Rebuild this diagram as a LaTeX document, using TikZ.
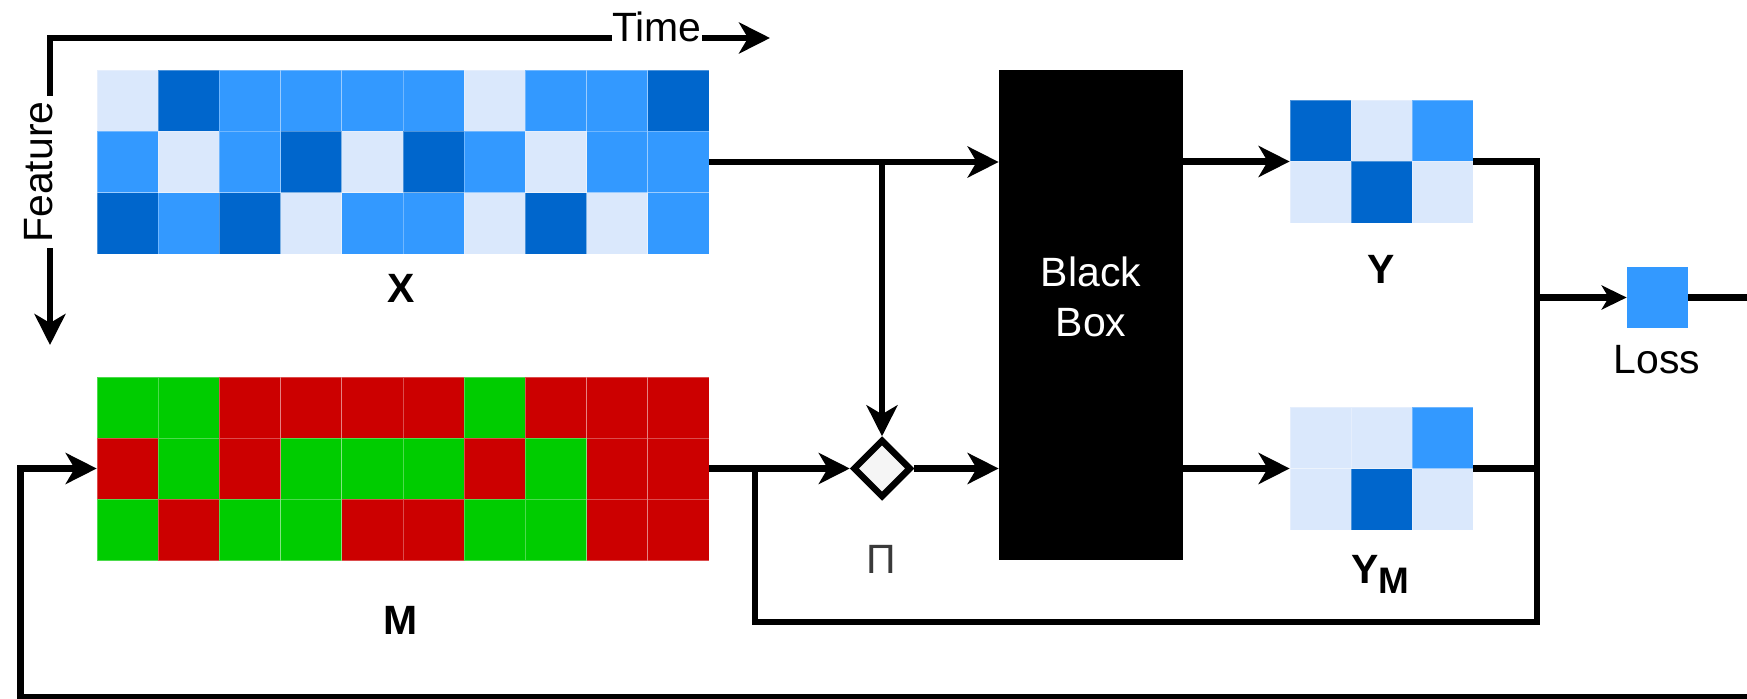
\documentclass[tikz,border=0pt]{standalone}
\usepackage{fontspec}
\setmainfont{Liberation Sans}
\usetikzlibrary{arrows.meta,shapes.geometric}
\definecolor{cL}{HTML}{DAE8FC}
\definecolor{cM}{HTML}{3399FF}
\definecolor{cD}{HTML}{0066CC}
\definecolor{cG}{HTML}{00CC00}
\definecolor{cR}{HTML}{CC0000}
\definecolor{cP}{HTML}{F5F5F5}
\definecolor{cT}{HTML}{3A3A3A}
\tikzset{
  bigtip/.tip={Stealth[length=0.62cm,width=0.62cm,inset=0.18cm]},
  smalltip/.tip={Stealth[length=0.5cm,width=0.48cm,inset=0.14cm]},
  conn/.style={line width=0.13cm, black},
  arr/.style={-bigtip},
  arrs/.style={-smalltip},
  lbl/.style={font=\fontsize{23.3pt}{28.4pt}\selectfont, inner sep=0pt},
  blbl/.style={font=\fontsize{23.3pt}{28.4pt}\selectfont\bfseries, inner sep=0pt},
  gridbox/.style={draw=none, inner sep=0pt, minimum width=12.24cm, minimum height=3.68cm},
  smallgrid/.style={draw=none, inner sep=0pt, minimum width=3.66cm, minimum height=2.46cm},
  cell/.style={draw=white, draw opacity=0.3, line width=0.4pt},
}
\begin{document}
\begin{tikzpicture}[x=0.02cm,y=-0.02cm]
\useasboundingbox (0,0) rectangle (1747,699);

% grids
\node[gridbox] (X) at (403,162) {};
\node[gridbox] (M) at (403,468.5) {};
\node[smallgrid] (Y) at (1381.5,161.5) {};
\node[smallgrid] (YM) at (1381.5,468.5) {};

\foreach \row [count=\r from 0] in {{L,D,M,M,M,M,L,M,M,D},{M,L,M,D,L,D,M,L,M,M},{D,M,D,L,M,M,L,D,L,M}} {
  \foreach \col [count=\c from 0] in \row {
    \filldraw[cell, fill=c\col] (97+\c*61.2,70+\r*61.33) rectangle ++(61.2,61.33);
  }
}
\foreach \row [count=\r from 0] in {{G,G,R,R,R,R,G,R,R,R},{R,G,R,G,G,G,R,G,R,R},{G,R,G,G,R,R,G,G,R,R}} {
  \foreach \col [count=\c from 0] in \row {
    \filldraw[cell, fill=c\col] (97+\c*61.2,377+\r*61.17) rectangle ++(61.2,61.17);
  }
}
\foreach \row [count=\r from 0] in {{D,L,M},{L,D,L}} {
  \foreach \col [count=\c from 0] in \row {
    \filldraw[cell, fill=c\col] (1290+\c*61,100+\r*61.5) rectangle ++(61,61.5);
  }
}
\foreach \row [count=\r from 0] in {{L,L,M},{L,D,L}} {
  \foreach \col [count=\c from 0] in \row {
    \filldraw[cell, fill=c\col] (1290+\c*61,407+\r*61.5) rectangle ++(61,61.5);
  }
}

% black box
\node[fill=black, minimum width=3.68cm, minimum height=9.8cm, inner sep=0pt] (bb) at (1091,315) {};
\node[lbl, text=white, align=center] (bbl) at (1091,297) {Black\\Box};

% product diamond
\node[diamond, draw, line width=0.13cm, fill=cP, minimum size=1.16cm, inner sep=0pt] (pi) at (882,468.5) {};

% loss
\node[fill=cM, minimum size=1.22cm, inner sep=0pt] (loss) at (1657.5,297.5) {};

% labels
\node[blbl, anchor=base] (xl) at (401,302) {X};
\node[blbl, anchor=base] (ml) at (401,634) {M};
\node[blbl, anchor=base] (yl) at (1381,283) {Y};
\node[blbl, anchor=base] (yml) at (1380,583) {Y\raisebox{-0.2cm}{\fontsize{21pt}{25pt}\selectfont M}};
\node[lbl, anchor=base] (lossl) at (1657,373) {Loss};
\node[lbl, anchor=base, text=cT] (pil) at (881,573) {Π};

% axes
\coordinate (ax0) at (50,38);
\coordinate (axT) at (770,38);
\coordinate (axF) at (50,345);
\draw[conn, bigtip-bigtip] (axT) -- (ax0) -- (axF);
\node[lbl, anchor=base, fill=white, inner xsep=0pt, inner ysep=0.05cm] (timel) at (657,42) {Time};
\node[lbl, anchor=base, rotate=90, fill=white, inner xsep=0.1cm, inner ysep=0.07cm] (featl) at (52,172) {Feature};

% connectors
\coordinate (br1) at (882,162);
\coordinate (br2) at (755,468.5);
\coordinate (lp) at (1537,622);
\coordinate (lj) at (1537,297.5);
\coordinate (rE) at (1747,297.5);
\coordinate (fbR) at (1747,697);
\coordinate (fbL) at (20.5,697);

\draw[conn, arr] (X.east) -- (X.east -| bb.west);
\draw[conn, arr] (br1) -- (pi.north);
\draw[conn, arr] (M.east) -- (pi.west);
\draw[conn, arr] (pi.east) -- (pi.east -| bb.west);
\draw[conn, arr] (bb.east |- Y.west) -- (Y.west);
\draw[conn, arr] (bb.east |- YM.west) -- (YM.west);
\draw[conn] (Y.east) -| (lp) -- (br2 |- lp) -- (br2);
\draw[conn] (YM.east) -- (YM.east -| lp);
\draw[conn, arrs] (lj) -- (loss.west);
\draw[conn] (loss.east) -- (rE);
\draw[conn, arr] (fbR) -- (fbL) |- (M.west);
\end{tikzpicture}
\end{document}
